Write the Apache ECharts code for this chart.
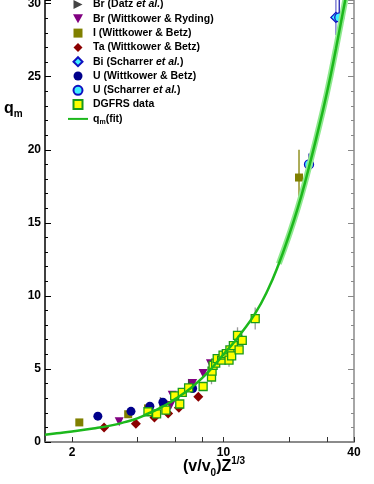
<!DOCTYPE html>
<html>
<head>
<meta charset="utf-8">
<script src="https://cdn.jsdelivr.net/npm/echarts@6/dist/echarts.min.js"></script>
<style>
  html, body { margin: 0; padding: 0; background: #fff; }
  #chart { width: 374px; height: 484px; }
</style>
</head>
<body>
<div id="chart"></div>
<script>
// values: [ (v/v0)Z^1/3 , q_m ]
const brDatz = [[5.3, 2.8], [7.15, 4.05]];
const brWittRyding = [[3.3, 1.38], [5.7, 2.5], [5.8, 3.2], [7.2, 4.0], [8.05, 4.68], [8.7, 5.36]];
const iWittBetz = [[2.16, 1.34], [3.63, 1.9], [4.48, 2.3], [5.27, 2.6], [22.3, 18.1]];
const taWittBetz = [[2.81, 1.0], [3.94, 1.25], [4.8, 1.68], [5.55, 1.95], [6.22, 2.35], [7.65, 3.1]];
const biScharrer = [[33.0, 29.06]];
const uWittBetz = [[2.63, 1.77], [3.74, 2.1], [4.57, 2.45], [5.25, 2.72], [7.2, 3.66]];
const uScharrer = [[24.8, 19.0], [34.2, 29.06]];
const dgfrs = [
  [4.48, 2.07], [4.91, 1.92], [5.42, 2.18], [5.95, 3.15], [6.28, 2.6], [6.45, 3.4],
  [6.9, 3.7], [8.05, 3.8], [8.8, 4.45], [8.85, 4.85], [8.95, 5.25], [9.2, 5.4],
  [9.35, 5.7], [9.8, 5.6], [9.95, 5.95], [10.3, 6.05], [10.6, 5.6], [10.7, 6.3],
  [10.9, 5.9], [11.1, 6.6], [11.6, 7.3], [11.8, 6.3], [12.2, 6.95], [14.0, 8.45]
];
// error bars: [x, q, +/-]
const dgfrsErr = [[14.0, 8.45, 0.75], [11.6, 7.3, 0.55], [10.6, 5.6, 0.45], [12.2, 6.95, 0.4],
  [8.8, 4.45, 0.5], [9.95, 5.95, 0.35], [8.05, 3.8, 0.3]];
const iErr = [[22.3, 18.1, 1.9]];
const uErr = [[24.8, 19.0, 0.75], [34.2, 29.06, 1.2]];
const biErr = [[33.0, 29.06, 1.2]];
// fit curve, traced
const fitCurve = [
  [1.5, 0.5], [1.7, 0.6], [2.0, 0.72], [2.5, 0.92], [3.0, 1.12], [3.5, 1.36], [4.0, 1.62],
  [4.5, 1.95], [5.0, 2.27], [5.5, 2.6], [6.0, 2.95], [7.0, 3.65], [8.0, 4.4], [9.0, 5.2],
  [10.0, 6.0], [11.0, 6.7], [12.0, 7.4], [14.0, 8.8], [16.0, 10.4], [18.0, 12.2],
  [20.0, 14.1], [22.0, 16.0], [24.0, 18.0], [27.0, 21.0], [30.0, 23.9], [33.0, 26.9], [36.5, 30.3]
];
const xTicks = [2, 4, 6, 8, 10, 20, 30, 40];
const xTickLabels = [2, 10, 40];

const font = '"Liberation Sans", Arial, sans-serif';
const lg = v => Math.log10(v);
const toLog = arr => arr.map(p => [lg(p[0])].concat(p.slice(1)));

// path symbols keep their aspect inside the legend box
const SQUARE = 'path://M0,0L10,0L10,10L0,10Z';
const DIAMOND = 'path://M5,0L10,5L5,10L0,5Z';
const TRI_RIGHT = 'path://M0,0L10,5L0,10Z';
const TRI_DOWN = 'path://M0,0L10,0L5,9Z';
const BAR = 'path://M0,0L30,0L30,3L0,3Z';

function errBars(color) {
  return function (params, api) {
    const x = api.value(0), y = api.value(1), e = api.value(2);
    const a = api.coord([x, y - e]);
    const b = api.coord([x, y + e]);
    return {
      type: 'line',
      shape: { x1: a[0], y1: a[1], x2: b[0], y2: b[1] },
      style: { stroke: color, lineWidth: 1.3 }
    };
  };
}

function scatter(name, data, symbol, size, fill, border, z) {
  return {
    name: name,
    type: 'scatter',
    data: toLog(data),
    symbol: symbol,
    symbolSize: size,
    z: z,
    itemStyle: { color: fill, borderColor: border || fill, borderWidth: border ? 1.3 : 0, opacity: 1 }
  };
}

const chart = echarts.init(document.getElementById('chart'));

const plain = { fontFamily: font, fontWeight: 'bold', fontSize: 10.5, color: '#000', lineHeight: 13 };

chart.setOption({
  animation: false,
  grid: { left: 45, right: 20, top: 0, bottom: 42, outerBoundsMode: 'none' },
  legend: {
    left: 63,
    top: -7,
    orient: 'vertical',
    itemWidth: 20,
    itemHeight: 9,
    itemGap: 1.3,
    selectedMode: false,
    textStyle: Object.assign({}, plain, {
      rich: {
        b: plain,
        i: Object.assign({}, plain, { fontStyle: 'italic' }),
        s: { fontFamily: font, fontWeight: 'bold', fontSize: 7, color: '#000', lineHeight: 13, verticalAlign: 'bottom' }
      }
    }),
    formatter: function (name) {
      if (name.indexOf('et al.') >= 0) {
        const parts = name.split('et al.');
        return '{b|' + parts[0] + '}{i|et al.}{b|' + parts[1] + '}';
      }
      if (name === 'qm(fit)') return '{b|q}{s|m}{b|(fit)}';
      return name;
    },
    data: ['Br (Datz et al.)', 'Br (Wittkower & Ryding)', 'I (Wittkower & Betz)', 'Ta (Wittkower & Betz)',
      'Bi (Scharrer et al.)', 'U (Wittkower & Betz)', 'U (Scharrer et al.)', 'DGFRS data',
      { name: 'qm(fit)', icon: BAR }]
  },
  xAxis: {
    type: 'value',
    min: lg(1.5),
    max: lg(40),
    axisLine: { lineStyle: { color: '#666', width: 1.5 } },
    axisTick: { inside: true, length: 5, customValues: xTicks.map(lg), lineStyle: { color: '#333' } },
    axisLabel: {
      customValues: xTickLabels.map(lg),
      formatter: v => String(Math.round(Math.pow(10, v))),
      fontFamily: font, fontWeight: 'bold', fontSize: 12, color: '#000', margin: 5
    },
    splitLine: { show: false }
  },
  yAxis: [{
    type: 'value',
    min: 0,
    max: 30.25,
    interval: 5,
    axisLine: { show: true, lineStyle: { color: '#000', width: 1.5 } },
    axisTick: { show: true, inside: true, length: 6, lineStyle: { color: '#000' } },
    minorTick: { show: true, splitNumber: 5, length: 3, lineStyle: { color: '#000' } },
    axisLabel: {
      formatter: v => (v % 5 === 0 ? String(v) : ''),
      fontFamily: font, fontWeight: 'bold', fontSize: 12, color: '#000', margin: 4
    },
    splitLine: { show: false }
  }, {
    type: 'value',
    position: 'right',
    min: 0,
    max: 30.25,
    interval: 5,
    axisLine: { show: true, lineStyle: { color: '#888', width: 1.5 } },
    axisTick: { show: true, inside: true, length: 6, lineStyle: { color: '#888' } },
    minorTick: { show: true, splitNumber: 5, length: 3, lineStyle: { color: '#888' } },
    axisLabel: { show: false },
    splitLine: { show: false }
  }],
  graphic: [{
    type: 'text',
    left: 4,
    top: 101,
    style: {
      text: '{a|q}{s|m}',
      rich: {
        a: { fontFamily: font, fontWeight: 'bold', fontSize: 16, fill: '#000', lineHeight: 20 },
        s: { fontFamily: font, fontWeight: 'bold', fontSize: 10, fill: '#000', lineHeight: 20, verticalAlign: 'bottom' }
      }
    }
  }, {
    type: 'text',
    left: 183,
    top: 456,
    style: {
      text: '{a|(v/v}{s|0}{a|)Z}{p|1/3}',
      rich: {
        a: { fontFamily: font, fontWeight: 'bold', fontSize: 16, fill: '#000', lineHeight: 22 },
        s: { fontFamily: font, fontWeight: 'bold', fontSize: 10, fill: '#000', lineHeight: 22, verticalAlign: 'bottom' },
        p: { fontFamily: font, fontWeight: 'bold', fontSize: 10, fill: '#000', lineHeight: 22, verticalAlign: 'top' }
      }
    }
  }],
  series: [
    scatter('Br (Datz et al.)', brDatz, TRI_RIGHT, 8, '#444444', null, 3),
    scatter('Br (Wittkower & Ryding)', brWittRyding, TRI_DOWN, 9, '#800080', null, 3),
    scatter('I (Wittkower & Betz)', iWittBetz, SQUARE, 8, '#808000', null, 4),
    scatter('Ta (Wittkower & Betz)', taWittBetz, DIAMOND, 10, '#8b0000', null, 4),
    scatter('Bi (Scharrer et al.)', biScharrer, DIAMOND, 10, '#40f0ff', '#1010c0', 5),
    scatter('U (Wittkower & Betz)', uWittBetz, 'circle', 9, '#00008b', null, 4),
    scatter('U (Scharrer et al.)', uScharrer, 'circle', 9, '#40f0ff', '#1010c0', 5),
    scatter('DGFRS data', dgfrs, SQUARE, 8, '#ffff00', '#1a9a1a', 6),
    {
      name: 'fitBand',
      type: 'line',
      data: toLog(fitCurve.filter(p => p[0] >= 18)),
      symbol: 'none',
      smooth: true,
      z: 6,
      lineStyle: { color: '#8fe98f', width: 6 }
    },
    {
      name: 'qm(fit)',
      type: 'line',
      data: toLog(fitCurve),
      symbol: 'none',
      smooth: true,
      z: 7,
      lineStyle: { color: '#1cb81c', width: 2.5 },
      itemStyle: { color: '#1cb81c' }
    },
    { name: 'errDG', type: 'custom', renderItem: errBars('#999999'), data: toLog(dgfrsErr), encode: { x: 0, y: 1 }, clip: true, z: 2 },
    { name: 'errI', type: 'custom', renderItem: errBars('#808000'), data: toLog(iErr), encode: { x: 0, y: 1 }, clip: true, z: 2 },
    { name: 'errU', type: 'custom', renderItem: errBars('#2020b0'), data: toLog(uErr), encode: { x: 0, y: 1 }, clip: true, z: 2 },
    { name: 'errBi', type: 'custom', renderItem: errBars('#7070d0'), data: toLog(biErr), encode: { x: 0, y: 1 }, clip: true, z: 2 }
  ]
});
</script>
</body>
</html>
